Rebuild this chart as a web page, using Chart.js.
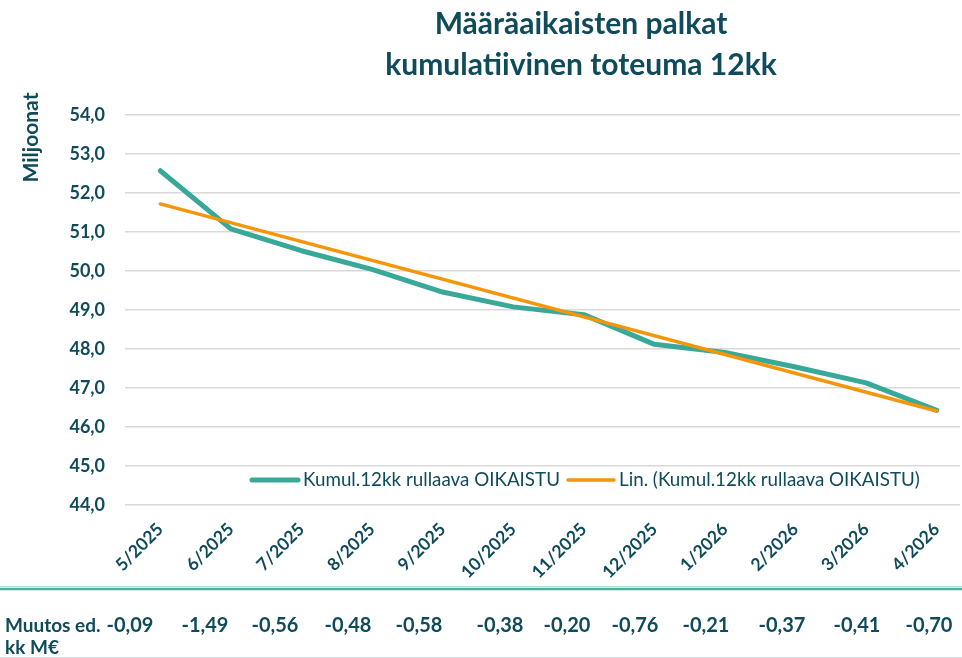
<!DOCTYPE html>
<html>
<head>
<meta charset="utf-8">
<script src="https://cdn.jsdelivr.net/npm/chart.js@4.4.1/dist/chart.umd.min.js"></script>
<style>
  html, body { margin: 0; padding: 0; background: #ffffff; overflow: hidden; }
  #wrap { position: relative; width: 962px; height: 658px; }
</style>
</head>
<body>
<div id="wrap"><canvas id="c" width="962" height="658"></canvas></div>
<script>
// ---- data ----
const months = ['5/2025','6/2025','7/2025','8/2025','9/2025','10/2025','11/2025','12/2025','1/2026','2/2026','3/2026','4/2026'];
const kumulValues = [52.57, 51.08, 50.52, 50.04, 49.46, 49.08, 48.88, 48.12, 47.91, 47.54, 47.13, 46.43];
const trendEnds = [51.72, 46.41];           // linear trend at first and last month
const monthlyChange = ['-0,09','-1,49','-0,56','-0,48','-0,58','-0,38','-0,20','-0,76','-0,21','-0,37','-0,41','-0,70'];
const yTicks = [44, 45, 46, 47, 48, 49, 50, 51, 52, 53, 54];
const seriesLabels = ['Kumul.12kk rullaava OIKAISTU', 'Lin. (Kumul.12kk rullaava OIKAISTU)'];
const titleLines = ['Määräaikaisten palkat', 'kumulatiivinen toteuma 12kk'];
const yTitle = 'Miljoonat';
const tableHeader = ['Muutos ed.', 'kk M€'];

// ---- layout / style (not data) ----
const FONT = 'Lato, "Open Sans", sans-serif';
const DARK = '#0F4B5B';
const TEAL = '#38A898';
const ORANGE = '#F5960A';
const tableCellX = [130, 205, 275, 348, 419, 500, 567, 635, 706, 782, 857, 929];

const decorPlugin = {
  id: 'decor',
  afterDraw(chart) {
    const ctx = chart.ctx;
    ctx.save();
    // title
    ctx.fillStyle = DARK;
    ctx.font = 'bold 30px ' + FONT;
    ctx.textAlign = 'center';
    ctx.textBaseline = 'alphabetic';
    ctx.fillText(titleLines[0], 581, 34);
    ctx.fillText(titleLines[1], 581, 75);
    // y title
    ctx.save();
    ctx.translate(31, 137.5);
    ctx.rotate(-Math.PI / 2);
    ctx.font = 'bold 21px ' + FONT;
    ctx.textBaseline = 'middle';
    ctx.textAlign = 'center';
    ctx.fillText(yTitle, 0, 0);
    ctx.restore();
    // legend (inside plot)
    const ly = 480;
    const ds = chart.data.datasets;
    ctx.lineCap = 'round';
    ctx.strokeStyle = ds[0].borderColor; ctx.lineWidth = 5;
    ctx.beginPath(); ctx.moveTo(252, ly); ctx.lineTo(298, ly); ctx.stroke();
    ctx.strokeStyle = ds[1].borderColor; ctx.lineWidth = 3.5;
    ctx.beginPath(); ctx.moveTo(568, ly); ctx.lineTo(614, ly); ctx.stroke();
    ctx.fillStyle = DARK;
    ctx.font = '18.8px ' + FONT;
    ctx.textAlign = 'left';
    ctx.textBaseline = 'middle';
    ctx.fillText(ds[0].label, 303, ly);
    ctx.fillText(ds[1].label, 619, ly);
    // separator lines
    ctx.lineCap = 'butt';
    ctx.strokeStyle = '#B9DDD8'; ctx.lineWidth = 1;
    ctx.beginPath(); ctx.moveTo(0, 586.5); ctx.lineTo(962, 586.5); ctx.stroke();
    ctx.strokeStyle = '#4DAE9F'; ctx.lineWidth = 2.5;
    ctx.beginPath(); ctx.moveTo(0, 589); ctx.lineTo(962, 589); ctx.stroke();
    ctx.strokeStyle = '#C9E4E0'; ctx.lineWidth = 1;
    ctx.beginPath(); ctx.moveTo(0, 657.5); ctx.lineTo(962, 657.5); ctx.stroke();
    // table row
    ctx.fillStyle = DARK;
    ctx.font = 'bold 19px ' + FONT;
    ctx.textAlign = 'left';
    ctx.fillText(tableHeader[0], 5, 626);
    ctx.fillText(tableHeader[1], 5, 648);
    ctx.font = 'bold 20px ' + FONT;
    ctx.textAlign = 'center';
    monthlyChange.forEach((t, i) => ctx.fillText(t, tableCellX[i], 626));
    ctx.restore();
  }
};

const fmt = v => v.toFixed(1).replace('.', ',');

new Chart(document.getElementById('c'), {
  type: 'line',
  data: {
    datasets: [
      {
        label: seriesLabels[0],
        data: kumulValues.map((v, i) => ({ x: i, y: v })),
        borderColor: TEAL,
        backgroundColor: TEAL,
        borderWidth: 5,
        pointRadius: 0,
        tension: 0,
        borderCapStyle: 'round',
        borderJoinStyle: 'round',
        order: 1
      },
      {
        label: seriesLabels[1],
        data: [{ x: 0, y: trendEnds[0] }, { x: months.length - 1, y: trendEnds[1] }],
        borderColor: ORANGE,
        backgroundColor: ORANGE,
        borderWidth: 3.5,
        pointRadius: 0,
        tension: 0,
        borderCapStyle: 'round',
        order: 0
      }
    ]
  },
  options: {
    responsive: false,
    animation: false,
    events: [],
    layout: { padding: { top: 115, right: 2, bottom: 80, left: 0 } },
    plugins: {
      legend: { display: false },
      title: { display: false },
      tooltip: { enabled: false }
    },
    scales: {
      x: {
        type: 'linear',
        min: -0.5,
        max: 11.33,
        afterBuildTicks: s => { s.ticks = months.map((_, i) => ({ value: i })); },
        afterFit: s => { s.height = 73; },
        grid: { display: false },
        border: { display: false },
        ticks: {
          autoSkip: false,
          maxRotation: 45,
          minRotation: 45,
          padding: 6,
          color: DARK,
          font: { family: FONT, size: 17.5, weight: 'bold' },
          callback: v => months[v]
        }
      },
      y: {
        min: 44,
        max: 54,
        afterBuildTicks: s => { s.ticks = yTicks.map(v => ({ value: v })); },
        afterFit: s => { s.width = 125; },
        grid: { color: '#D9D9D9', lineWidth: 1.5, drawTicks: false },
        border: { display: false },
        ticks: {
          padding: 20,
          color: DARK,
          font: { family: FONT, size: 18, weight: 'bold' },
          callback: v => fmt(v)
        }
      }
    }
  },
  plugins: [decorPlugin]
});
</script>
</body>
</html>
